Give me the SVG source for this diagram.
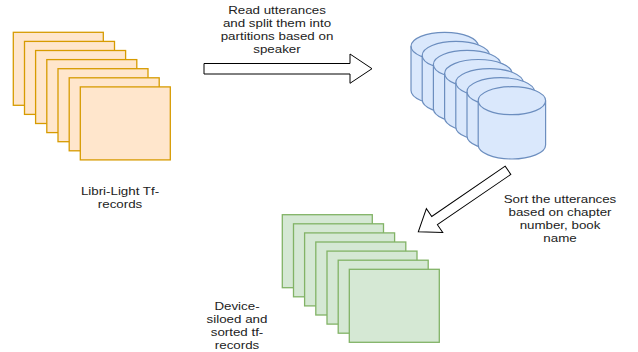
<svg xmlns="http://www.w3.org/2000/svg" xmlns:xlink="http://www.w3.org/1999/xlink" width="638" height="352" viewBox="0 0 638 352">
  <style>
    .rec-o { fill: #ffe6cc; stroke: #d79b00; stroke-width: 1.3; }
    .rec-g { fill: #d5e8d4; stroke: #82b366; stroke-width: 1.3; }
    .cyl { fill: #dae8fc; stroke: #6c8ebf; stroke-width: 1.2; }
    .cyl-front { fill: none; stroke: #6c8ebf; stroke-width: 1.2; }
    .arrow { fill: #ffffff; stroke: #000000; stroke-width: 1; stroke-linejoin: miter; }
    .lbl { font-family: "Liberation Sans", Arial, sans-serif; font-size: 11.5px; fill: #222222; text-anchor: middle; }
  </style>
  <defs>
    <rect id="sheet" x="0" y="0" width="90" height="73"/>
    <g id="drum">
      <path class="cyl" d="M0,14 A33.7,14 0 0 1 67.4,14 V58.3 A33.7,14 0 0 1 0,58.3 Z"/>
      <path class="cyl-front" d="M0,14 A33.7,14 0 0 0 67.4,14"/>
    </g>
  </defs>

  <!-- source tf-records stack -->
  <g id="libri-light-records">
    <use xlink:href="#sheet" class="rec-o" x="13.3" y="32.3"/>
    <use xlink:href="#sheet" class="rec-o" x="24.5" y="41.4"/>
    <use xlink:href="#sheet" class="rec-o" x="35.6" y="50.5"/>
    <use xlink:href="#sheet" class="rec-o" x="46.8" y="59.6"/>
    <use xlink:href="#sheet" class="rec-o" x="58.0" y="68.7"/>
    <use xlink:href="#sheet" class="rec-o" x="69.2" y="77.8"/>
    <use xlink:href="#sheet" class="rec-o" x="80.3" y="86.9"/>
    <text class="lbl" transform="translate(120,0) scale(1.16,1)" x="0" y="195.3">Libri-Light Tf-<tspan x="0" dy="13">records</tspan></text>
  </g>

  <!-- speaker partitions -->
  <g id="speaker-partitions">
    <use xlink:href="#drum" x="411" y="32.3"/>
    <use xlink:href="#drum" x="422.2" y="41.4"/>
    <use xlink:href="#drum" x="433.4" y="50.4"/>
    <use xlink:href="#drum" x="444.6" y="59.5"/>
    <use xlink:href="#drum" x="455.8" y="68.6"/>
    <use xlink:href="#drum" x="467" y="77.7"/>
    <use xlink:href="#drum" x="478.2" y="86.7"/>
  </g>

  <!-- sorted output stack -->
  <g id="sorted-records">
    <use xlink:href="#sheet" class="rec-g" x="282.3" y="214.7"/>
    <use xlink:href="#sheet" class="rec-g" x="293.5" y="223.8"/>
    <use xlink:href="#sheet" class="rec-g" x="304.6" y="232.9"/>
    <use xlink:href="#sheet" class="rec-g" x="315.8" y="242.0"/>
    <use xlink:href="#sheet" class="rec-g" x="327.0" y="251.1"/>
    <use xlink:href="#sheet" class="rec-g" x="338.2" y="260.2"/>
    <use xlink:href="#sheet" class="rec-g" x="349.3" y="269.3"/>
    <text class="lbl" transform="translate(237,0) scale(1.16,1)" x="0" y="309.8">Device-<tspan x="0" dy="13">siloed and</tspan><tspan x="0" dy="13">sorted tf-</tspan><tspan x="0" dy="13">records</tspan></text>
  </g>

  <!-- block arrows with their captions -->
  <g id="connectors">
    <polygon class="arrow" points="204,63.5 350,63.5 350,54 372,68.7 350,83.3 350,74 204,74"/>
    <text class="lbl" transform="translate(277,0) scale(1.16,1)" x="0" y="14.4">Read utterances<tspan x="0" dy="13">and split them into</tspan><tspan x="0" dy="13">partitions based on</tspan><tspan x="0" dy="13">speaker</tspan></text>

    <polygon class="arrow" transform="translate(508,170.3) rotate(145.6)" points="0,-5 89,-5 89,-14.5 108.7,0 89,14.5 89,5 0,5"/>
    <text class="lbl" transform="translate(560,0) scale(1.16,1)" x="0" y="202.6">Sort the utterances<tspan x="0" dy="13">based on chapter</tspan><tspan x="0" dy="13">number, book</tspan><tspan x="0" dy="13">name</tspan></text>
  </g>
</svg>
